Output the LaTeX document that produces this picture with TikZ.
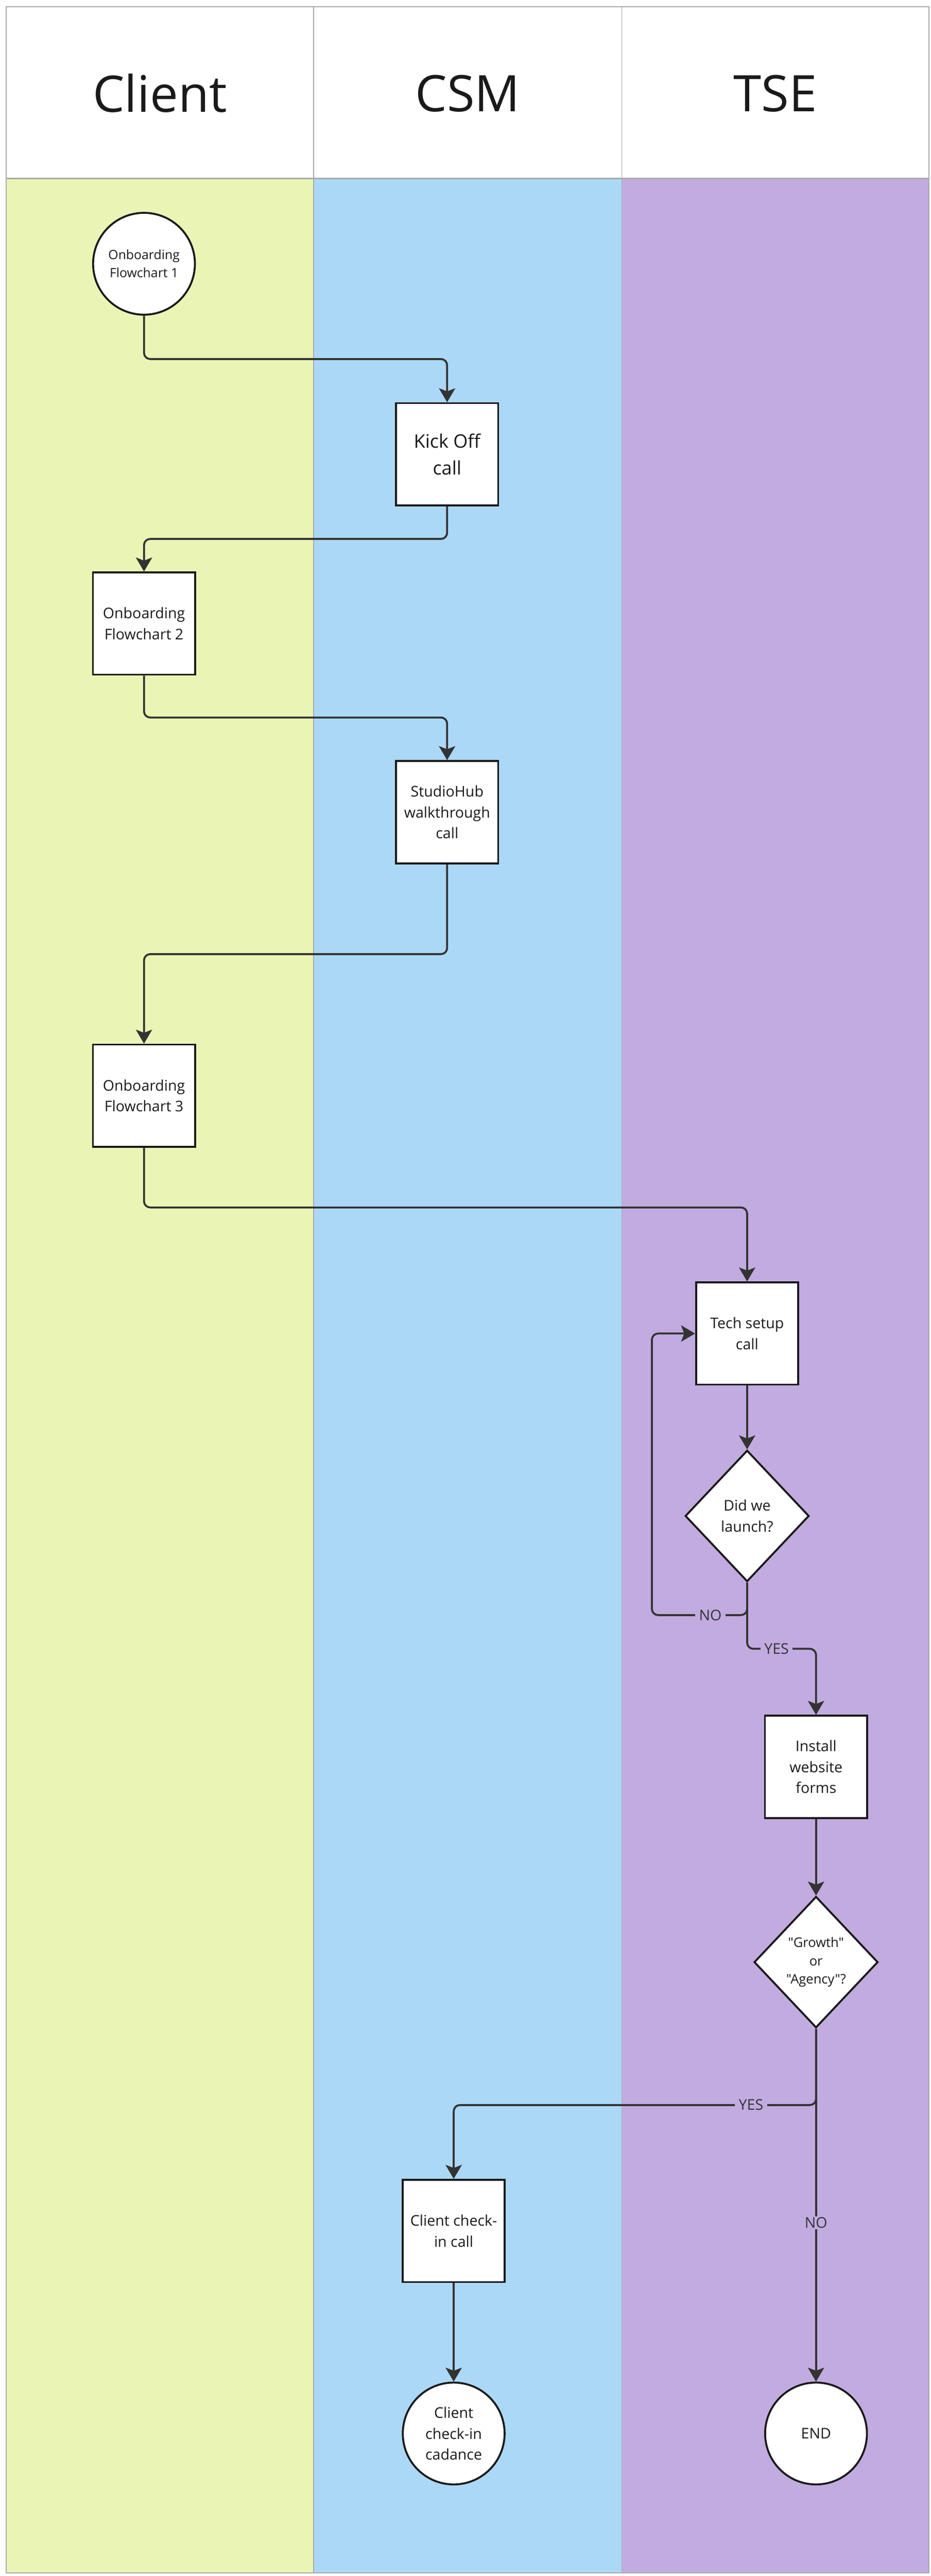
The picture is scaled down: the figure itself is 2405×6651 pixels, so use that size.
\documentclass[tikz,border=0pt]{standalone}
\usepackage{fontspec}
\setmainfont{Open Sans}
\newfontfamily\qfont{Open Sans}[Ligatures=TeXOff]
\usetikzlibrary{shapes.geometric,arrows.meta}
\definecolor{laneA}{RGB}{234,245,181}
\definecolor{laneB}{RGB}{172,216,247}
\definecolor{laneC}{RGB}{194,171,224}
\definecolor{framegray}{RGB}{170,170,170}
\definecolor{ink}{RGB}{26,26,26}
\definecolor{wire}{RGB}{51,51,51}
\begin{document}
\begin{tikzpicture}[x=1pt,y=-1pt,
  hdr/.style={text=ink, inner sep=0pt, font=\fontsize{130}{150}\selectfont},
  box/.style={draw=ink, line width=5pt, fill=white, minimum width=264pt, minimum height=264pt, inner sep=0pt, align=center, text=ink, font=\fontsize{38}{54}\selectfont},
  term/.style={draw=ink, line width=5pt, fill=white, circle, minimum size=263pt, inner sep=0pt, align=center, text=ink, font=\fontsize{38}{54}\selectfont},
  decis/.style={draw=ink, line width=5pt, fill=white, diamond, minimum width=320pt, minimum height=339pt, inner sep=0pt, align=center, text=ink, font=\fontsize{38}{54}\selectfont},
  conn/.style={draw=wire, line width=5pt, rounded corners=16pt, -{Stealth[length=36pt,width=42pt,inset=8pt]}},
  lbl/.style={fill=laneC, inner xsep=10pt, inner ysep=3pt, text=wire, font=\fontsize{38}{46}\selectfont},
  lanefr/.style={draw=framegray, line width=3pt},
  lanediv/.style={draw=framegray, line width=1.8pt}
]
\useasboundingbox (0,0) rectangle (2405,6651);
\fill[white] (0,0) rectangle (2405,6651);
% lanes
\fill[laneA] (16,461) rectangle (810,6643);
\fill[laneB] (810,461) rectangle (1606,6643);
\fill[laneC] (1606,461) rectangle (2400,6643);
\draw[lanediv] (810,17) -- (810,6643);
\draw[lanediv] (1606,17) -- (1606,6643);
\draw[lanefr] (16,461) -- (2400,461);
\draw[lanefr] (16,17) rectangle (2400,6643);
% headers
\node[hdr] (hA) at (413,241) {Client};
\node[hdr] (hB) at (1208,241) {CSM};
\node[hdr] (hC) at (2003,241) {TSE};
% nodes
\node[term, font=\fontsize{33}{46}\selectfont] (c1) at (372,681) {Onboarding\\Flowchart 1};
\node[box, font=\fontsize{48}{69}\selectfont] (kick) at (1155,1173) {Kick Off\\call};
\node[box] (of2) at (372,1610) {Onboarding\\Flowchart 2};
\node[box] (hub) at (1155,2097) {StudioHub\\walkthrough\\call};
\node[box] (of3) at (372,2829) {Onboarding\\Flowchart 3};
\node[box] (tech) at (1930,3443) {Tech setup\\call};
\node[decis] (d1) at (1930,3914) {Did we\\launch?};
\node[box] (inst) at (2108,4562) {Install\\website\\forms};
\node[decis, font=\fontsize{34}{47}\qfont] (d2) at (2108,5066) {"Growth"\\or\\"Agency"?};
\node[box] (chk) at (1172,5760) {Client check-\\in call};
\node[term] (cad) at (1172,6283) {Client\\check-in\\cadance};
\node[term] (endn) at (2108,6283) {END};
\coordinate (noturn) at (1684,4170);
% connectors
\draw[conn] (c1.south) -- ++(0,112) -| (kick.north);
\draw[conn] (kick.south) -- ++(0,84) -| (of2.north);
\draw[conn] (of2.south) -- ++(0,108) -| (hub.north);
\draw[conn] (hub.south) -- ++(0,232) -| (of3.north);
\draw[conn] (of3.south) -- ++(0,154) -| (tech.north);
\draw[conn] (tech.south) -- (d1.north);
\draw[conn] (d1.south) |- (noturn) |- (tech.west);
\draw[conn] (d1.south) -- ++(0,171) -| (inst.north);
\draw[conn] (inst.south) -- (d2.north);
\draw[conn] (d2.south) -- ++(0,197) -| (chk.north);
\draw[conn] (d2.south) -- (endn.north);
\draw[conn] (chk.south) -- (cad.north);
% labels
\node[lbl] (lno1) at (1835,4170) {NO};
\node[lbl] (lyes1) at (2006,4257) {YES};
\node[lbl] (lyes2) at (1940,5434) {YES};
\node[lbl] (lno2) at (2108,5739) {NO};
\end{tikzpicture}
\end{document}
